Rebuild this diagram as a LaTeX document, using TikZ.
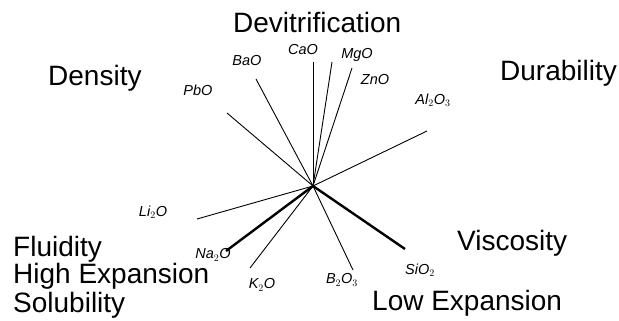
\documentclass[tikz,border=0pt]{standalone}
\usepackage{fontspec}
\setmainfont{Liberation Sans}
\begin{document}
\begin{tikzpicture}[x=1pt,y=-1pt,
  prop/.style={font=\fontsize{28}{32}\selectfont, inner sep=0pt, anchor=base west},
  oxide/.style={font=\fontsize{14.5}{16}\selectfont\itshape, inner sep=0pt},
  thin/.style={line width=0.9pt},
  thick/.style={line width=2.4pt}]
\path[use as bounding box] (0,0) rectangle (619,321);

% property labels
\node[prop] (devit) at (233,33) {Devitrification};
\node[prop] (dens) at (48,85) {Density};
\node[prop] (dura) at (500,81) {Durability};
\node[prop] (flu) at (13,256) {Fluidity};
\node[prop] (hexp) at (13,283) {High Expansion};
\node[prop] (sol) at (13,312) {Solubility};
\node[prop] (visc) at (457,250) {Viscosity};
\node[prop] (lexp) at (372,310) {Low Expansion};

% centre and line ends
\coordinate (c) at (313,186);
\coordinate (ePb) at (227,113);
\coordinate (eBa) at (256,79);
\coordinate (eCa) at (313,62);
\coordinate (eMg) at (332,62);
\coordinate (eZn) at (352,68);
\coordinate (eAl) at (427,131);
\coordinate (eLi) at (197,219);
\coordinate (eNa) at (226,251);
\coordinate (eK) at (250,268);
\coordinate (eB) at (353,270);
\coordinate (eSi) at (405,249);

\draw[thin] (c) -- (ePb);
\draw[thin] (c) -- (eBa);
\draw[thin] (c) -- (eCa);
\draw[thin] (c) -- (eMg);
\draw[thin] (c) -- (eZn);
\draw[thin] (c) -- (eAl);
\draw[thin] (c) -- (eLi);
\draw[thick] (c) -- (eNa);
\draw[thin] (c) -- (eK);
\draw[thin] (c) -- (eB);
\draw[thick] (c) -- (eSi);

% oxide labels
\node[oxide] (lPb) at (198,90) {PbO};
\node[oxide] (lBa) at (247,61) {BaO};
\node[oxide] (lCa) at (303,50) {CaO};
\node[oxide] (lMg) at (357,55) {MgO};
\node[oxide] (lZn) at (375,80) {ZnO};
\node[oxide] (lAl) at (433,100) {Al$_2$O$_3$};
\node[oxide] (lLi) at (153,212) {Li$_2$O};
\node[oxide] (lNa) at (213,255) {Na$_2$O};
\node[oxide] (lK) at (262,285) {K$_2$O};
\node[oxide] (lB) at (342,280) {B$_2$O$_3$};
\node[oxide] (lSi) at (420,270) {SiO$_2$};
\end{tikzpicture}
\end{document}
